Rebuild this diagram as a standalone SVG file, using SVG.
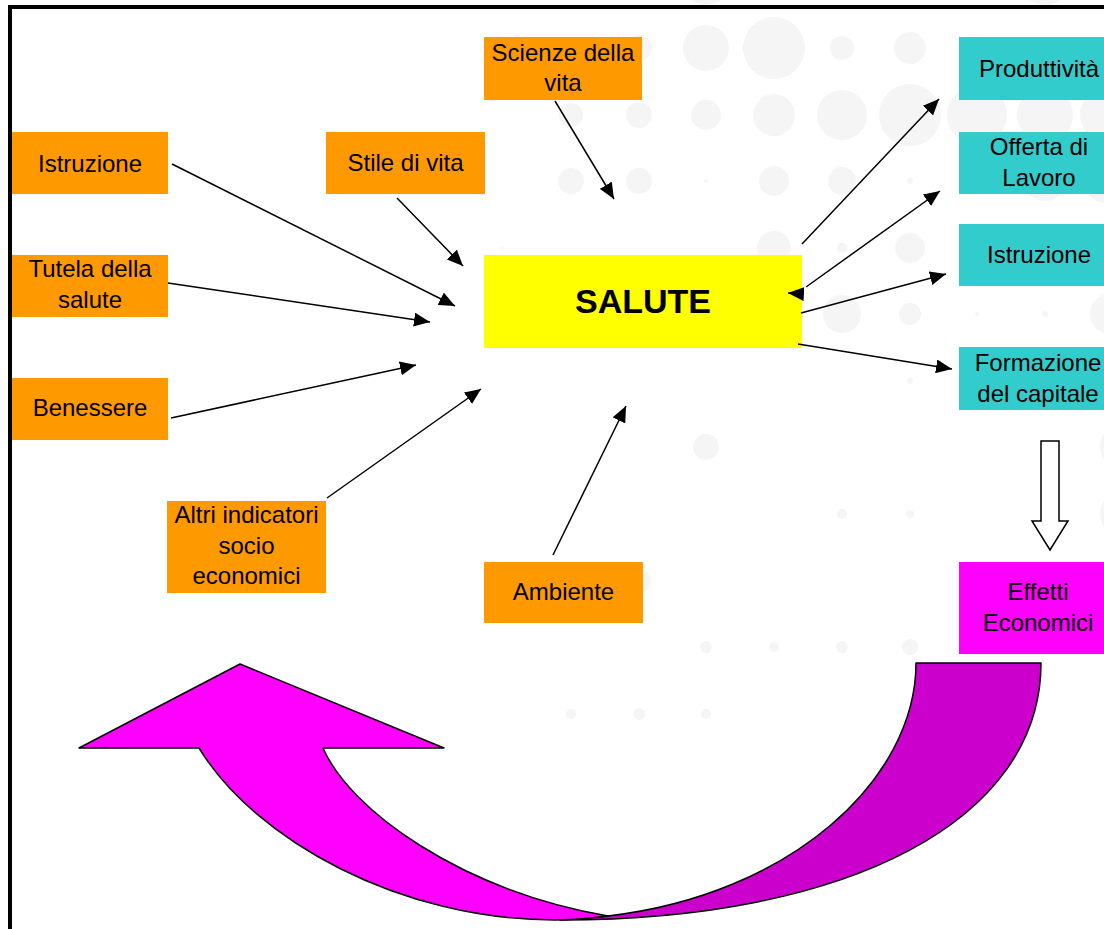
<svg xmlns="http://www.w3.org/2000/svg" width="1104" height="929" viewBox="0 0 1104 929">
<style>
.t{font-family:"Liberation Sans",Arial,sans-serif;font-size:24px;fill:#000;text-anchor:middle}
.b{font-weight:bold;font-size:34px}
.or{fill:#ff9900}
.tl{fill:#33cccc}
.dot{fill:#f5f5f5}
.cn{stroke:#000;stroke-width:1.5;fill:none;marker-end:url(#ah)}
</style>
<defs>
<marker id="ah" markerUnits="userSpaceOnUse" markerWidth="17" markerHeight="14" refX="16" refY="7" orient="auto">
<path d="M0,0 L16,7 L0,14 Z" fill="#000"/>
</marker>
</defs>
<rect width="1104" height="929" fill="#fff"/>
<g id="background-dots">
<circle class="dot" cx="706" cy="-20" r="25"/><circle class="dot" cx="1045" cy="-20" r="25"/>
<circle class="dot" cx="639" cy="48" r="13"/><circle class="dot" cx="706" cy="48" r="23"/><circle class="dot" cx="774" cy="48" r="31"/><circle class="dot" cx="842" cy="48" r="12"/><circle class="dot" cx="910" cy="48" r="16"/>
<circle class="dot" cx="571" cy="115" r="12"/><circle class="dot" cx="639" cy="115" r="13"/><circle class="dot" cx="706" cy="115" r="15"/><circle class="dot" cx="774" cy="115" r="21"/><circle class="dot" cx="842" cy="115" r="25"/><circle class="dot" cx="910" cy="115" r="31"/><circle class="dot" cx="977" cy="115" r="30"/><circle class="dot" cx="1045" cy="115" r="28"/><circle class="dot" cx="1106" cy="115" r="26"/>
<circle class="dot" cx="571" cy="181" r="13"/><circle class="dot" cx="639" cy="181" r="13"/><circle class="dot" cx="706" cy="181" r="2"/><circle class="dot" cx="774" cy="181" r="15"/><circle class="dot" cx="842" cy="181" r="14"/><circle class="dot" cx="910" cy="181" r="3"/><circle class="dot" cx="1045" cy="181" r="20"/><circle class="dot" cx="1106" cy="181" r="22"/>
<circle class="dot" cx="502" cy="248" r="1.5"/><circle class="dot" cx="774" cy="248" r="17"/><circle class="dot" cx="842" cy="248" r="5"/><circle class="dot" cx="910" cy="248" r="15"/>
<circle class="dot" cx="842" cy="314" r="19"/><circle class="dot" cx="910" cy="314" r="11"/><circle class="dot" cx="977" cy="314" r="2"/><circle class="dot" cx="1045" cy="314" r="3"/><circle class="dot" cx="1110" cy="314" r="20"/>
<circle class="dot" cx="910" cy="381" r="3"/>
<circle class="dot" cx="706" cy="447" r="13"/><circle class="dot" cx="1125" cy="447" r="25"/>
<circle class="dot" cx="842" cy="514" r="5"/><circle class="dot" cx="910" cy="514" r="4"/><circle class="dot" cx="1125" cy="514" r="25"/>
<circle class="dot" cx="639" cy="581" r="12"/>
<circle class="dot" cx="706" cy="647" r="6"/><circle class="dot" cx="774" cy="647" r="5"/><circle class="dot" cx="842" cy="647" r="6"/><circle class="dot" cx="910" cy="647" r="8"/>
<circle class="dot" cx="571" cy="714" r="5"/><circle class="dot" cx="639" cy="714" r="6"/><circle class="dot" cx="706" cy="714" r="5"/>
</g>
<g id="frame" stroke="#000" stroke-width="4">
<line x1="8" y1="7" x2="1104" y2="7"/>
<line x1="10" y1="5" x2="10" y2="929"/>
</g>
<g id="n-istruzione-l"><rect class="or" x="12" y="132" width="156" height="62"/><text class="t" x="90" y="172">Istruzione</text></g>
<g id="n-stile"><rect class="or" x="326" y="132" width="159" height="62"/><text class="t" x="405.5" y="171">Stile di vita</text></g>
<g id="n-scienze"><rect class="or" x="484" y="37" width="158" height="63"/><text class="t" x="563" y="61">Scienze della</text><text class="t" x="563" y="91">vita</text></g>
<g id="n-tutela"><rect class="or" x="12" y="255" width="156" height="62"/><text class="t" x="90" y="277">Tutela della</text><text class="t" x="90" y="308">salute</text></g>
<g id="n-benessere"><rect class="or" x="12" y="378" width="156" height="62"/><text class="t" x="90" y="416">Benessere</text></g>
<g id="n-altri"><rect class="or" x="167" y="501" width="159" height="92"/><text class="t" x="246.5" y="523">Altri indicatori</text><text class="t" x="246.5" y="554">socio</text><text class="t" x="246.5" y="584">economici</text></g>
<g id="n-ambiente"><rect class="or" x="484" y="562" width="159" height="61"/><text class="t" x="563.5" y="600">Ambiente</text></g>
<g id="n-salute"><rect fill="#ffff00" x="484" y="255" width="318" height="93"/><text class="t b" x="643" y="313">SALUTE</text></g>
<g id="n-produttivita"><rect class="tl" x="959" y="37" width="160" height="63"/><text class="t" x="1039" y="77">Produttività</text></g>
<g id="n-offerta"><rect class="tl" x="959" y="132" width="160" height="62"/><text class="t" x="1039" y="155">Offerta di</text><text class="t" x="1039" y="186">Lavoro</text></g>
<g id="n-istruzione-r"><rect class="tl" x="959" y="224" width="160" height="62"/><text class="t" x="1039" y="263">Istruzione</text></g>
<g id="n-formazione"><rect class="tl" x="959" y="347" width="160" height="63"/><text class="t" x="1038" y="371">Formazione</text><text class="t" x="1038" y="402">del capitale</text></g>
<g id="n-effetti"><rect fill="#ff00ff" x="959" y="562" width="160" height="92"/><text class="t" x="1038" y="600">Effetti</text><text class="t" x="1038" y="631">Economici</text></g>
<g id="feedback-arrow" stroke="#000" stroke-width="1.5" stroke-linejoin="round">
<path fill="#cc00cc" d="M916,663 L1041,663 C1041,820 850,920 560,920 C580,919 595,917 608,916 C790,895 916,780 916,663 Z"/>
<path fill="#ff00ff" d="M240,664 L444,748 L323,748 C350,810 460,890 608,916 C590,918 575,920 555,920 C400,920 255,840 199,748 L79,748 Z"/>
</g>
<g id="down-arrow"><polygon points="1041,441 1059,441 1059,521 1068,521 1050,550 1032,521 1041,521" fill="#fff" stroke="#000" stroke-width="1.5"/></g>
<g id="connectors">
<line class="cn" x1="172" y1="164" x2="455" y2="306"/>
<line class="cn" x1="397" y1="198" x2="463" y2="266"/>
<line class="cn" x1="555" y1="101" x2="614" y2="199"/>
<line class="cn" x1="168" y1="283" x2="430" y2="322"/>
<line class="cn" x1="171" y1="418" x2="416" y2="365"/>
<line class="cn" x1="327" y1="498" x2="481" y2="389"/>
<line class="cn" x1="553" y1="555" x2="626" y2="406"/>
<line class="cn" x1="802" y1="244" x2="939" y2="99"/>
<line class="cn" x1="806" y1="287" x2="940" y2="191"/>
<line class="cn" x1="803" y1="294" x2="788" y2="293"/>
<line class="cn" x1="801" y1="313" x2="946" y2="274"/>
<line class="cn" x1="798" y1="344" x2="952" y2="369"/>
</g>
</svg>
